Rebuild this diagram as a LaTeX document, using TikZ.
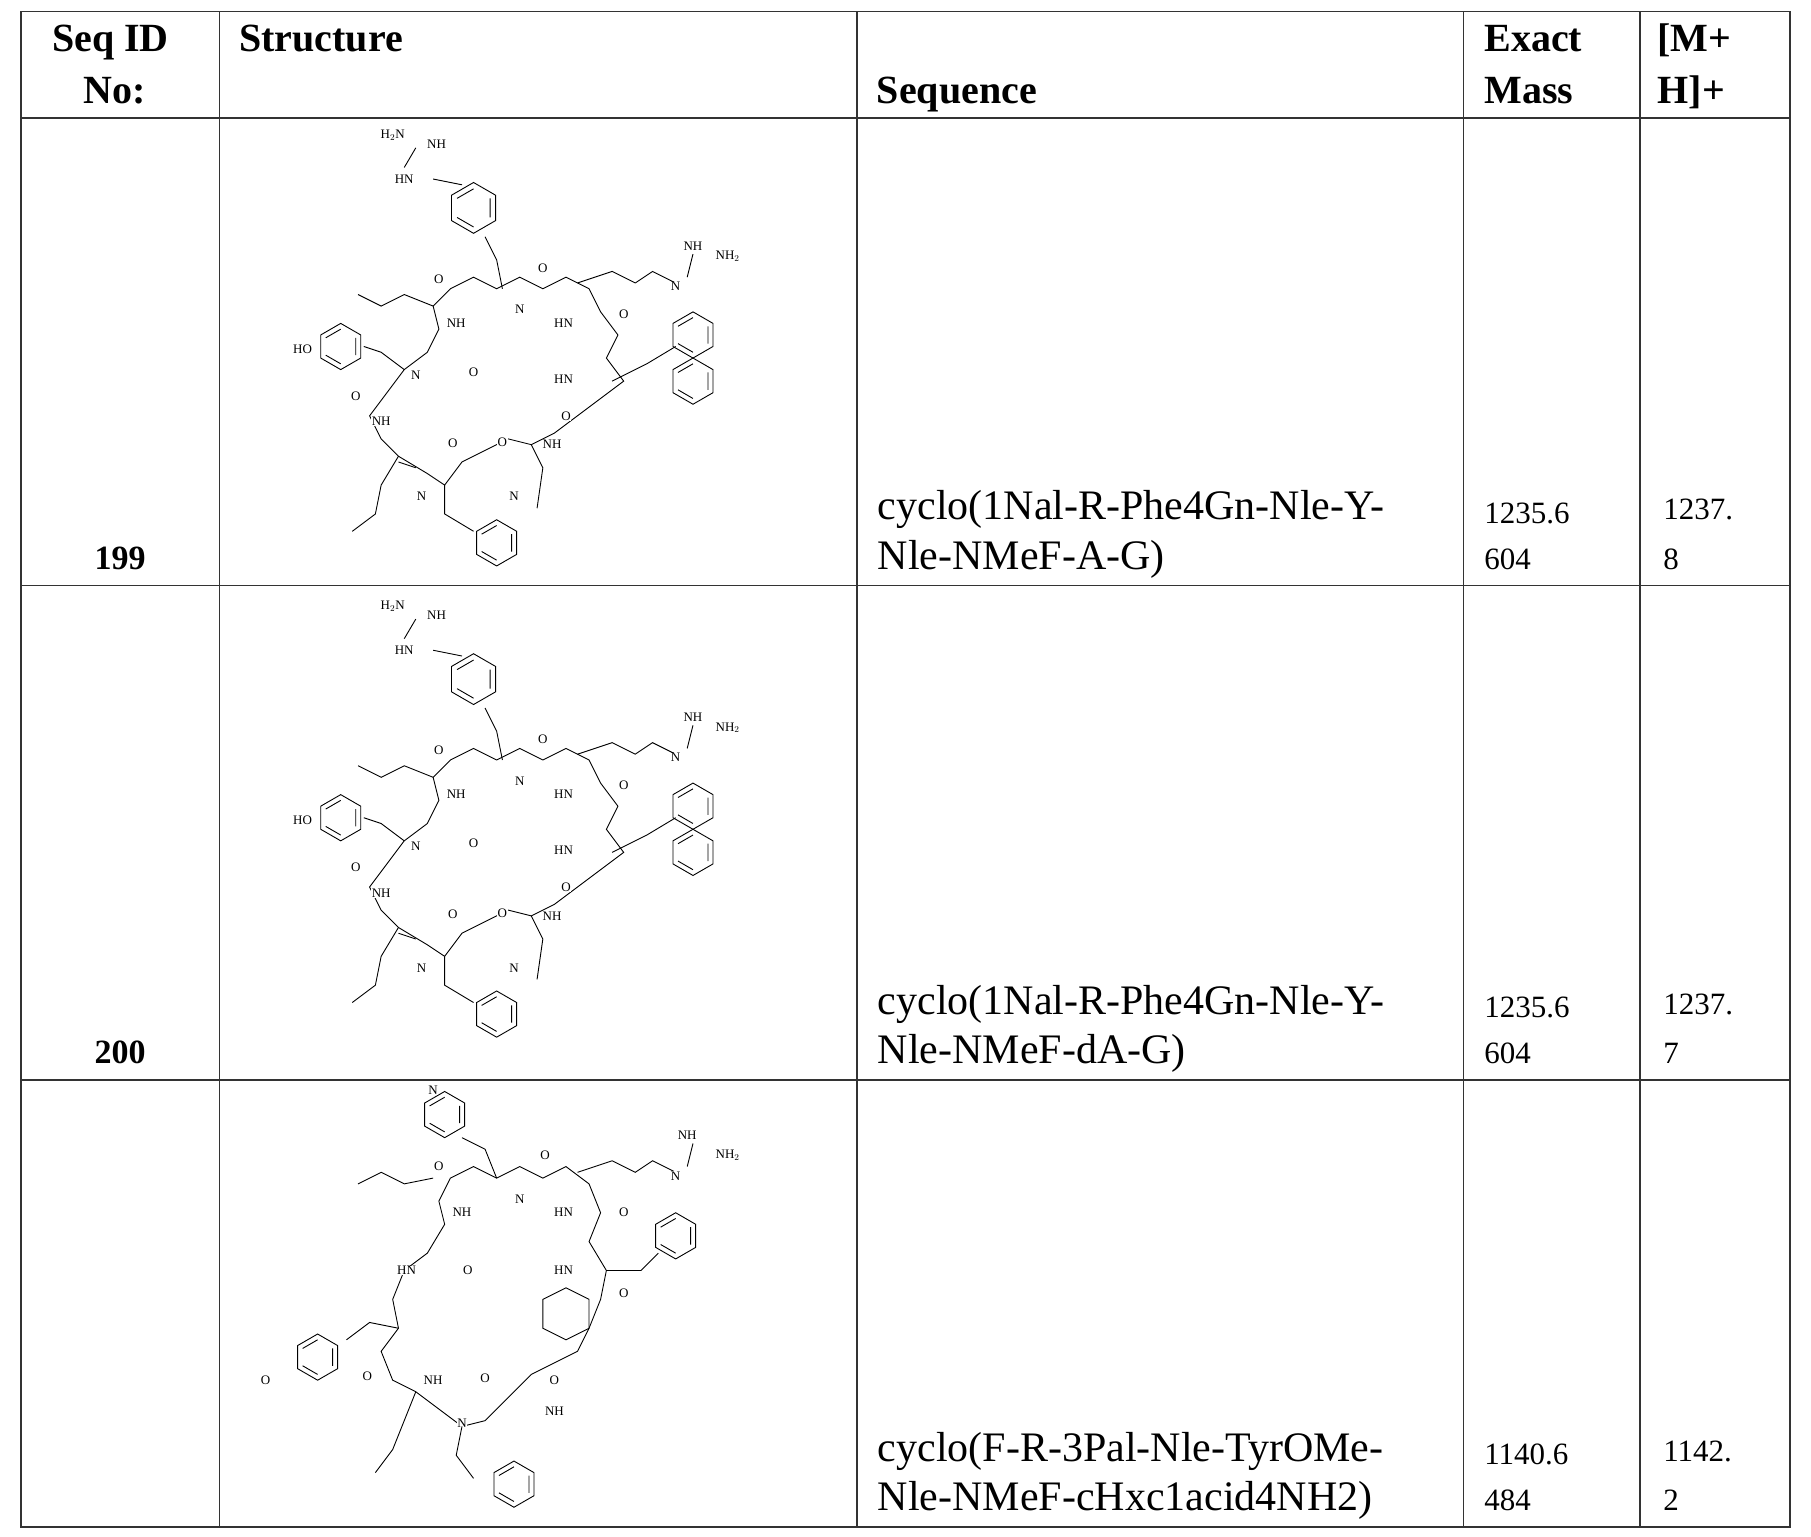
\documentclass[tikz,border=0pt]{standalone}
\usepackage{fontspec}
\setmainfont{Liberation Serif}
\begin{document}
\begin{tikzpicture}[x=1.155pt,y=-1.155pt,
  grid/.style={line width=1.6pt,black!80},
  hdr/.style={font=\fontsize{40}{42}\selectfont\bfseries,anchor=base west,inner sep=0},
  seq/.style={font=\fontsize{42}{44}\selectfont,anchor=base west,inner sep=0},
  mass/.style={font=\fontsize{31}{33}\selectfont,anchor=base west,inner sep=0},
  num/.style={font=\fontsize{34}{36}\selectfont\bfseries,anchor=base,inner sep=0},
  lab/.style={font=\fontsize{13}{13}\selectfont,inner sep=0.5pt,fill=white},
  bond/.style={line width=0.9pt}]
\useasboundingbox (0,0) rectangle (1568,1330);
\fill[white] (0,0) rectangle (1568,1330);
% grid
\draw[grid] (18,10) rectangle (1550,1322);
\foreach \x in {190,742,1267,1420} \draw[grid] (\x,10) -- (\x,1322);
\foreach \y in {102,507,935} \draw[grid] (18,\y) -- (1550,\y);
% headers
\node[hdr] at (45,45) {Seq ID};
\node[hdr] at (72,90) {No:};
\node[hdr] at (207,45) {Structure};
\node[hdr] at (759,90) {Sequence};
\node[hdr] at (1285,45) {Exact};
\node[hdr] at (1285,90) {Mass};
\node[hdr] at (1435,45) {[M+};
\node[hdr] at (1435,90) {H]+};
% rows
\newcommand{\rowtxt}[7]{%
 \node[num] at (104,#1+493) {#2};
 \node[seq] at (760,#1+450) {#3};
 \node[seq] at (760,#1+493) {#4};
 \node[mass] at (1285,#1+453) {#5};
 \node[mass] at (1285,#1+493) {#6};
 \node[mass] at (1440,#1+450) {#7.};
 \node[mass] at (1440,#1+493) {\csname rowlast\endcsname};}
\def\rowlast{8}
\rowtxt{0}{199}{cyclo(1Nal-R-Phe4Gn-Nle-Y-}{Nle-NMeF-A-G)}{1235.6}{604}{1237}
\def\rowlast{7}
\rowtxt{428}{200}{cyclo(1Nal-R-Phe4Gn-Nle-Y-}{Nle-NMeF-dA-G)}{1235.6}{604}{1237}
\def\rowlast{2}
\rowtxt{815}{}{cyclo(F-R-3Pal-Nle-TyrOMe-}{Nle-NMeF-cHxc1acid4NH2)}{1140.6}{484}{1142}
% hexagon macro
\newcommand{\hexa}[3]{\draw[bond] (#1,#2) +(90:#3) -- +(30:#3) -- +(-30:#3) -- +(-90:#3) -- +(-150:#3) -- +(150:#3) -- cycle;
 \draw[bond] (#1,#2) +(30:#3*0.75) -- +(-30:#3*0.75) +(-90:#3*0.75) -- +(-150:#3*0.75) +(150:#3*0.75) -- +(90:#3*0.75);}
% macrocycle for 199/200
\newcommand{\molA}[1]{\begin{scope}[shift={(0,#1)}]
 \draw[bond] (390,250)--(410,240)--(430,250)--(450,240)--(470,250)--(490,240)--(510,250)--(520,270)--(535,290)--(525,310)--(540,330)--(520,345)--(500,360)--(480,375)--(460,385)--(440,380)--(420,390)--(400,400)--(385,420)--(370,410)--(345,395)--(330,380)--(320,360)--(335,340)--(350,320)--(370,305)--(380,285)--(375,265)--cycle;
 \node[lab] at (380,242) {O}; \node[lab] at (470,232) {O}; \node[lab] at (540,272) {O};
 \node[lab] at (395,280) {NH}; \node[lab] at (450,268) {N}; \node[lab] at (488,280) {HN};
 \node[lab] at (488,328) {HN}; \node[lab] at (360,325) {N}; \node[lab] at (410,322) {O};
 \node[lab] at (330,365) {NH}; \node[lab] at (308,343) {O}; \node[lab] at (392,384) {O};
 \node[lab] at (490,360) {O}; \node[lab] at (478,385) {NH}; \node[lab] at (435,383) {O};
 \node[lab] at (365,430) {N}; \node[lab] at (445,430) {N};
 \draw[bond] (435,250)--(430,225)--(420,205); \hexa{410}{180}{22}
 \draw[bond] (400,160)--(375,155); \node[lab] at (350,155) {HN};
 \draw[bond] (350,145)--(360,128); \node[lab] at (340,117) {H$_2$N}; \node[lab] at (378,125) {NH};
 \draw[bond] (500,245)--(530,235)--(550,245)--(565,235)--(585,245); \node[lab] at (585,248) {N};
 \draw[bond] (595,240)--(600,220); \node[lab] at (600,213) {NH}; \node[lab] at (630,222) {NH$_2$};
 \draw[bond] (530,330)--(560,315)--(585,300); \hexa{600}{290}{20} \hexa{600}{330}{20}
 \draw[bond] (350,320)--(330,305)--(315,300); \hexa{295}{300}{20} \node[lab] at (262,302) {HO};
 \draw[bond] (385,420)--(385,445)--(410,460); \hexa{430}{470}{20}
 \draw[bond] (345,395)--(330,420)--(325,445)--(305,460);
 \draw[bond] (360,405)--(345,400);
 \draw[bond] (375,265)--(350,255)--(330,265)--(310,255);
 \draw[bond] (460,385)--(470,405)--(465,440);
\end{scope}}
\molA{0}
\molA{408}
% molecule 3
 \draw[bond] (390,1020-0)--(410,1010)--(430,1020)--(450,1010)--(470,1020)--(490,1010)--(510,1025)--(520,1050)--(510,1075)--(525,1100)--(520,1125)--(510,1150)--(500,1170)--(480,1180)--(460,1190)--(440,1210)--(420,1230)--(400,1235)--(380,1220)--(360,1205)--(340,1195)--(330,1170)--(345,1150)--(340,1125)--(350,1100)--(370,1085)--(385,1060)--(380,1040)--cycle;
 \node[lab] at (380,1010) {O}; \node[lab] at (472,1000) {O}; \node[lab] at (540,1050) {O};
 \node[lab] at (400,1050) {NH}; \node[lab] at (450,1038) {N}; \node[lab] at (488,1050) {HN};
 \node[lab] at (488,1100) {HN}; \node[lab] at (352,1100) {HN}; \node[lab] at (405,1100) {O};
 \node[lab] at (540,1120) {O}; \node[lab] at (375,1195) {NH}; \node[lab] at (318,1192) {O};
 \node[lab] at (420,1193) {O}; \node[lab] at (480,1195) {O}; \node[lab] at (480,1222) {NH};
 \node[lab] at (400,1232) {N};
 \draw[bond] (430,1020)--(420,995)--(400,985); \hexa{385}{965}{20} \node[lab] at (375,944) {N};
 \draw[bond] (500,1015)--(530,1005)--(550,1015)--(565,1005)--(585,1015); \node[lab] at (585,1018) {N};
 \draw[bond] (595,1010)--(600,990); \node[lab] at (595,983) {NH}; \node[lab] at (630,1000) {NH$_2$};
 \draw[bond] (525,1100)--(555,1100)--(570,1085); \hexa{585}{1070}{20}
 \draw[bond] (510,1150) +(0,0) -- +(-20,10) -- +(-40,0) -- +(-40,-25) -- +(-20,-35) -- +(0,-25) -- cycle;
 \draw[bond] (345,1150)--(320,1145)--(300,1160); \hexa{275}{1175}{20} \node[lab] at (230,1195) {O};
 \draw[bond] (375,1020)--(350,1025)--(330,1015)--(310,1025);
 \draw[bond] (400,1235)--(395,1260)--(410,1280); \hexa{445}{1285}{20}
 \draw[bond] (360,1205)--(350,1230)--(340,1255)--(325,1275);
\end{tikzpicture}
\end{document}
